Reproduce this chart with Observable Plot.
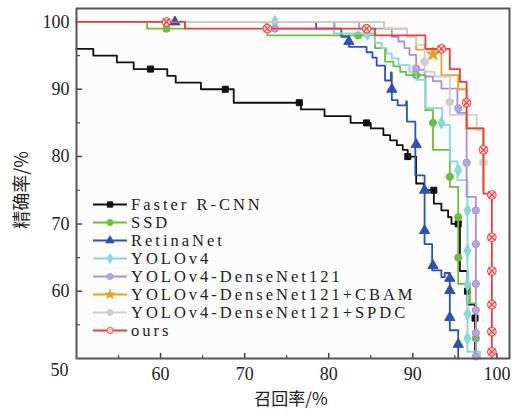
<!DOCTYPE html>
<html><head><meta charset="utf-8">
<script src="https://cdn.jsdelivr.net/npm/d3@7"></script>
<script src="https://cdn.jsdelivr.net/npm/@observablehq/plot@0.6"></script>
<style>body{margin:0;background:#fff;}</style>
</head><body><div id="chart"></div>
<script>
// ---- data (recall %, precision %) ----
const seriesNames = ["Faster R-CNN","SSD","RetinaNet","YOLOv4","YOLOv4-DenseNet121","YOLOv4-DenseNet121+CBAM","YOLOv4-DenseNet121+SPDC","ours"];
const seriesColors = ["#111111","#6cbf3c","#2c53b3","#86d8dc","#a992d2","#e8a21e","#cfcfcf","#f23a3a"];

const fasterPts = [[50,96],[52,95],[54.8,94],[56.8,93],[60.8,92],[61.8,91],[64.8,90],[68.7,88],[76.7,87],[79.5,86],[82.6,85],[85,84.2],[86.5,83.2],[87.3,82.4],[88.1,81.7],[88.8,81],[89.4,80],[90.4,76],[91.3,75],[92.5,73],[93.4,72],[94.2,71],[94.6,70],[95.6,63],[96.5,58],[97.4,50]];
const fasterMarks = [[58.8,93],[67.7,90],[76.5,88],[84.5,85],[89.4,80],[92.5,75],[95.4,70],[96.5,60],[97.4,56]];

const ssdPts = [[50,100],[58.4,99],[62.9,100],[72.7,98],[85.5,96.1],[86.7,94.1],[87.7,93.4],[88.5,92.6],[89.2,92.1],[91.5,86.9],[92.4,81],[94.4,75.5],[95.4,61.1],[96.8,58.2],[97.5,50]];
const ssdMarks = [[60.7,99],[83.5,98],[90.4,92.1],[92.4,85],[94.4,77],[95.4,71],[95.4,65],[97.5,53]];

const retinaPts = [[50,100],[78.5,99],[81.5,97.8],[82.4,96.3],[84.5,95.5],[85.2,94.7],[85.7,93.5],[86.7,91.3],[87.4,92.5],[87.5,88.4],[88.2,87.6],[89.2,88.2],[89.3,85.2],[90.3,77.2],[91.4,67],[92.3,63.1],[93.4,62.1],[93.8,62.7],[94.4,54.2],[95.4,50]];
const retinaMarks = [[61.7,100],[82.4,97.1],[87.5,90],[90.4,81.8],[91.4,75],[91.4,69],[92.4,63.8],[94.4,61.9],[94.4,60.1],[94.4,56.1],[95.4,52.1]];

const yolo4Pts = [[50,100],[80.6,98.3],[85.5,96.9],[86.3,96.1],[86.9,95.3],[87.5,94.6],[88.3,93.6],[89.6,92.6],[90.4,91.4],[91.5,87.2],[93.5,84.7],[94.4,79.3],[95.3,76.5],[96.5,51],[98,50]];
const yolo4Marks = [[73.6,100],[84.6,98.2],[93.4,85],[95.4,78],[96.5,72],[96.5,66],[96.5,61],[96.5,56.6],[96.5,53]];

const densePts = [[50,100],[72.5,99],[80.7,100],[83.6,99],[87.5,97.8],[88.3,97.1],[89,96.1],[89.6,95.1],[90.4,92.9],[91.4,91.9],[92.4,91.2],[93.4,90.1],[95.3,86.5],[96.4,74],[97.5,50]];
const denseMarks = [[73.6,99],[90.4,93.1],[95.4,87.2],[96.4,79.1],[97.5,72],[97.5,67],[97.5,61.1],[97.5,57.2],[97.5,53.8],[97.5,50.3]];

const cbamPts = [[50,100],[86.6,99],[89.3,97.8],[90.4,95.9],[93.4,92.1],[95.4,90],[96.4,84.2],[98.4,75]];
const cbamMarks = [[92.4,95.2]];

const spdcPts = [[50,100],[86.6,99],[89.3,97.8],[90.4,96.6],[91.4,92.6],[92.6,91.9],[94.4,86.2],[97.6,83.9],[98.4,75]];
const spdcMarks = [[91.4,94.1],[94.4,88.1],[98.4,79.1]];

const oursPts = [[50,100],[62.9,99],[85.5,98],[91.5,96],[94.4,93],[95.6,91.1],[96.4,84.2],[98.4,74.5],[99.4,50]];
const oursMarks = [[60.7,100],[72.7,99],[84.5,99],[93.4,96],[96.4,88],[98.4,81],[99.4,74.3],[99.4,68],[99.4,63],[99.4,58],[99.4,54],[99.4,51]];

const xTicks = [60,70,80,90,100];
const xCornerTick = [50];
const xMinor = [55,65,75,85,95];
const yTicks = [60,70,80,90,100];
const yMinor = [55,65,75,85,95];
const xTitle = "召回率/%";
const yTitle = "精确率/%";

// ---- marks ----
const allPts = [fasterPts,ssdPts,retinaPts,yolo4Pts,densePts,cbamPts,spdcPts,oursPts];
const allMarks = [fasterMarks,ssdMarks,retinaMarks,yolo4Marks,denseMarks,cbamMarks,spdcMarks,oursMarks];
const symbols = ["square","circle","triangle","diamond","circle","star","hexagon","circle"];
const fills = ["#111111","#6cbf3c","#2c53b3","#86d8dc","#b9a4de","#e8a21e","#cfcfcf","#fbd0d0"];
const sizes = [3.4,3.6,3.8,3.8,3.6,4.2,3.6,4.3];

const tickShape = {draw(ctx, l) { ctx.moveTo(0, 0); ctx.lineTo(0, -l); }};

const marks = [
  Plot.frame({fill: "#fcfcfc"}),
  Plot.vector(xTicks, {x: d => d, frameAnchor: "bottom", length: 5, rotate: 0, anchor: "start", shape: tickShape, stroke: "#444", strokeWidth: 1.5}),
  Plot.vector(xMinor, {x: d => d, frameAnchor: "bottom", length: 3, rotate: 0, anchor: "start", shape: tickShape, stroke: "#444", strokeWidth: 1.2}),
  Plot.vector(yTicks, {y: d => d, frameAnchor: "left", length: 5, rotate: 90, anchor: "start", shape: tickShape, stroke: "#444", strokeWidth: 1.5}),
  Plot.vector(yMinor, {y: d => d, frameAnchor: "left", length: 3, rotate: 90, anchor: "start", shape: tickShape, stroke: "#444", strokeWidth: 1.2}),
  Plot.axisX({ticks: xTicks, tickSize: 0, tickPadding: 9, label: null, fontSize: 18, fill: "#222"}),
  Plot.text(xCornerTick, {x: d => d, frameAnchor: "bottom", dy: 17, dx: -17, text: d => String(d), fontSize: 18, fill: "#222"}),
  Plot.axisY({ticks: yTicks, tickSize: 0, tickPadding: 7, label: null, fontSize: 18, fill: "#222"})
];
allPts.forEach((pts, i) => {
  marks.push(Plot.line(pts, {x: d => d[0], y: d => d[1], curve: "step-after", stroke: seriesColors[i], strokeWidth: 1.8}));
  marks.push(Plot.dot(allMarks[i], {x: d => d[0], y: d => d[1], symbol: symbols[i], r: sizes[i], fill: fills[i], stroke: seriesColors[i], strokeWidth: 1}));
  if (i === 7) marks.push(Plot.dot(allMarks[i], {x: d => d[0], y: d => d[1], symbol: "times", r: 3.3, stroke: seriesColors[i], strokeWidth: 1.1}));
});
marks.push(Plot.frame({stroke: "#555", strokeWidth: 2}));

const chart = Plot.plot({
  width: 515, height: 414,
  marginLeft: 76, marginRight: 6, marginTop: 8, marginBottom: 56,
  style: {fontFamily: "'Liberation Serif', 'Times New Roman', serif", background: "#fff", overflow: "visible"},
  x: {domain: [50, 101.5]},
  y: {domain: [50, 102]},
  marks
});
document.getElementById("chart").appendChild(chart);

// ---- legend & titles ----
const svg = d3.select(chart);
const d3sym = {square: d3.symbolSquare, circle: d3.symbolCircle, triangle: d3.symbolTriangle, diamond: d3.symbolDiamond, star: d3.symbolStar, hexagon: d3.symbolCircle};
const lg = svg.append("g").attr("text-anchor", "start");
seriesNames.forEach((name, i) => {
  const y = 204.5 + i * 18;
  lg.append("line").attr("x1", 93).attr("x2", 127).attr("y1", y).attr("y2", y)
    .attr("stroke", seriesColors[i]).attr("stroke-width", 1.8);
  lg.append("path").attr("transform", `translate(110,${y})`)
    .attr("d", d3.symbol(d3sym[symbols[i]], 30)())
    .attr("fill", fills[i]).attr("stroke", seriesColors[i]).attr("stroke-width", 0.8);
  lg.append("text").attr("x", 131).attr("y", y).attr("dy", "0.35em").attr("text-anchor", "start")
    .attr("font-family", "'Liberation Serif', serif").attr("font-size", 16.5)
    .attr("letter-spacing", 3).attr("fill", "#222").text(name);
});
svg.append("text").attr("x", 291).attr("y", 399).attr("dy", "0.35em").attr("text-anchor", "middle")
  .attr("font-family", "'Noto Sans CJK SC', sans-serif").attr("font-size", 17).attr("fill", "#222").text(xTitle);
svg.append("text").attr("transform", "translate(22,190) rotate(-90)").attr("dy", "0.35em").attr("text-anchor", "middle")
  .attr("font-family", "'Noto Sans CJK SC', sans-serif").attr("font-size", 18).attr("fill", "#222").text(yTitle);
</script>
</body></html>
